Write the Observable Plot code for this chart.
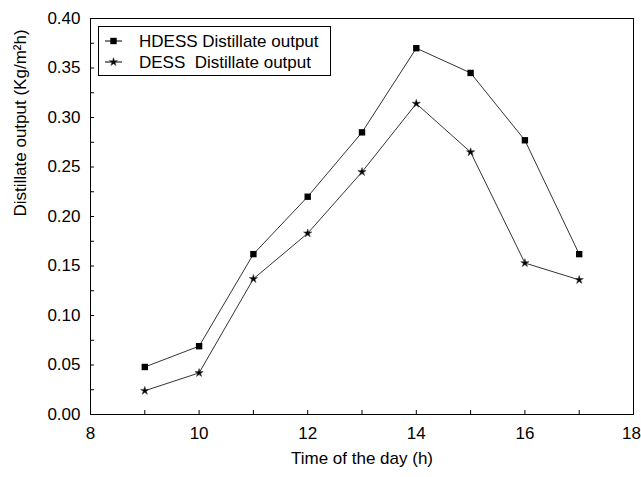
<!DOCTYPE html>
<html>
<head>
<meta charset="utf-8">
<script src="https://cdn.jsdelivr.net/npm/d3@7"></script>
<script src="https://cdn.jsdelivr.net/npm/@observablehq/plot@0.6"></script>
<style>
  html, body { margin: 0; padding: 0; background: #fff; }
</style>
</head>
<body>
<div id="chart"></div>
<script>
const hours = [9, 10, 11, 12, 13, 14, 15, 16, 17];
const hdess = [0.048, 0.069, 0.162, 0.220, 0.285, 0.370, 0.345, 0.277, 0.162];
const dess  = [0.024, 0.042, 0.137, 0.183, 0.245, 0.314, 0.265, 0.153, 0.136];
const seriesNames = ["HDESS Distillate output", "DESS  Distillate output"];
const xTickLabels = [8, 10, 12, 14, 16, 18];
const xTickMarks = [8, 9, 10, 11, 12, 13, 14, 15, 16, 17, 18];
const yTickLabels = [0, 0.05, 0.10, 0.15, 0.20, 0.25, 0.30, 0.35, 0.40];
const yTickMarks = [0, 0.025, 0.05, 0.075, 0.10, 0.125, 0.15, 0.175, 0.20, 0.225, 0.25, 0.275, 0.30, 0.325, 0.35, 0.375, 0.40];
const xLabel = "Time of the day (h)";
const yLabel = "Distillate output (Kg/m\u00B2h)";

const data = [
  ...hours.map((h, i) => ({hour: h, v: hdess[i], series: seriesNames[0]})),
  ...hours.map((h, i) => ({hour: h, v: dess[i], series: seriesNames[1]}))
];

const W = 641, H = 477, mL = 90, mR = 8, mT = 18, mB = 63;
const innerW = W - mL - mR, innerH = H - mT - mB;
const FONT = "'Liberation Sans', Arial, Helvetica, sans-serif";
const SQ_R = 3.6, STAR_R = 2.6;
const lastX = xTickLabels[xTickLabels.length - 1];

const chart = Plot.plot({
  width: W, height: H,
  marginLeft: mL, marginRight: mR, marginTop: mT, marginBottom: mB,
  x: {domain: [8, 18]},
  y: {domain: [0, 0.4]},
  style: {fontFamily: FONT, fontSize: "17px", color: "#000", background: "#fff"},
  marks: [
    Plot.frame({stroke: "#000", strokeWidth: 1}),
    Plot.tickX(xTickMarks, {x: d => d, insetTop: innerH - 4, stroke: "#000"}),
    Plot.tickY(yTickMarks, {y: d => d, insetRight: innerW - 4, stroke: "#000"}),
    Plot.axisX(xTickLabels.filter(d => d !== lastX), {tickSize: 0, tickPadding: 12, tickFormat: d => String(d), label: null, fontSize: 17}),
    Plot.axisX([lastX], {tickSize: 0, tickPadding: 12, tickFormat: d => String(d), label: null, fontSize: 17, dx: -2}),
    Plot.axisY(yTickLabels, {tickSize: 0, tickPadding: 10, tickFormat: d3.format(".2f"), label: null, fontSize: 17}),
    Plot.line(data, {x: "hour", y: "v", z: "series", stroke: "#333", strokeWidth: 1}),
    Plot.dot(data.filter(d => d.series === seriesNames[0]), {x: "hour", y: "v", symbol: "square", r: SQ_R, fill: "#000"}),
    Plot.dot(data.filter(d => d.series === seriesNames[1]), {x: "hour", y: "v", symbol: "star", r: STAR_R, fill: "#000", stroke: "#444", strokeWidth: 0.6}),
    Plot.text([xLabel], {text: d => d, frameAnchor: "bottom", dy: 49, fontSize: 17}),
    Plot.text([yLabel], {text: d => d, frameAnchor: "left", dx: -70, rotate: -90, fontSize: 17})
  ]
});

// Legend inside plot area
const svg = d3.select(chart);
const lg = svg.append("g").attr("font-family", FONT).attr("font-size", 17).attr("text-anchor", "start");
lg.append("rect").attr("x", 98.5).attr("y", 26.5).attr("width", 232).attr("height", 49)
  .attr("fill", "#fff").attr("stroke", "#000");
const rows = [
  {name: seriesNames[0], sym: d3.symbolSquare, size: Math.PI * SQ_R * SQ_R, stroke: "none"},
  {name: seriesNames[1], sym: d3.symbolStar, size: Math.PI * STAR_R * STAR_R, stroke: "#444"}
];
rows.forEach((r, i) => {
  const yy = 41 + i * 21;
  lg.append("line").attr("x1", 105).attr("x2", 122).attr("y1", yy).attr("y2", yy).attr("stroke", "#000");
  lg.append("path").attr("d", d3.symbol(r.sym, r.size)()).attr("transform", `translate(113.5,${yy})`)
    .attr("fill", "#000").attr("stroke", r.stroke).attr("stroke-width", 0.6);
  lg.append("text").attr("x", 139).attr("y", yy).attr("dy", "0.35em").attr("text-anchor", "start")
    .style("white-space", "pre").attr("xml:space", "preserve").text(r.name);
});

document.getElementById("chart").appendChild(chart);
</script>
</body>
</html>
